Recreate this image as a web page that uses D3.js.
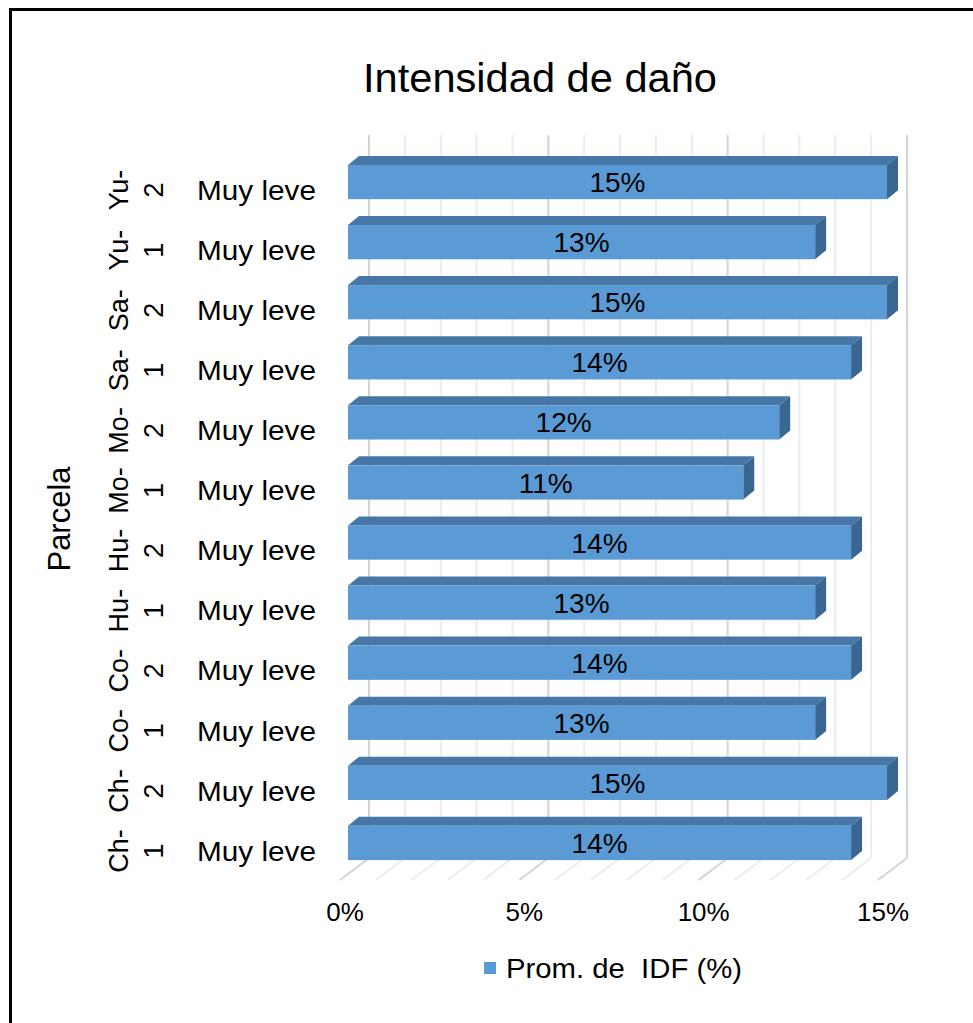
<!DOCTYPE html>
<html>
<head>
<meta charset="utf-8">
<script src="https://cdn.jsdelivr.net/npm/d3@7"></script>
<style>
  body { margin: 0; background: #fff; }
  text { font-family: "Liberation Sans", Arial, sans-serif; fill: #000; }
</style>
</head>
<body>
<svg id="chart" width="973" height="1023"></svg>
<script>
// datos (de abajo hacia arriba)
let parcelas = ["Ch-1", "Ch-2", "Co-1", "Co-2", "Hu-1", "Hu-2", "Mo-1", "Mo-2", "Sa-1", "Sa-2", "Yu-1", "Yu-2"]
let intensidad = ["Muy leve", "Muy leve", "Muy leve", "Muy leve", "Muy leve", "Muy leve",
                  "Muy leve", "Muy leve", "Muy leve", "Muy leve", "Muy leve", "Muy leve"]
let idf = [0.14, 0.15, 0.13, 0.14, 0.13, 0.14, 0.11, 0.12, 0.14, 0.15, 0.13, 0.15]
let ticks = [0, 0.05, 0.10, 0.15]

let datos = parcelas.map(function (p, i) {
    return { parcela: p, nivel: intensidad[i], valor: idf[i] }
})

let svg = d3.select("#chart")

// marco
svg.append("line").attr("x1", 9).attr("x2", 973).attr("y1", 9.5).attr("y2", 9.5)
    .attr("stroke", "#000").attr("stroke-width", 3)
svg.append("line").attr("x1", 10.5).attr("x2", 10.5).attr("y1", 8).attr("y2", 1023)
    .attr("stroke", "#000").attr("stroke-width", 3)

// escalas: frente de la barra, pared del fondo y borde frontal del piso
let xBar = d3.scaleLinear().domain([0, 0.15]).range([348, 887])
let xBack = d3.scaleLinear().domain([0, 0.15]).range([369, 907])
let xFront = d3.scaleLinear().domain([0, 0.15]).range([340, 878])

let y = d3.scaleBand()
    .domain(parcelas.slice().reverse())
    .range([152, 873])
    .paddingInner(0.43)
    .paddingOuter(0.215)

let depth = { dx: 11, dy: -9 }
let wallTop = 135, floorBack = 858, floorFront = 880

// lineas de division (cada 1%)
let minor = d3.range(0, 16).map(function (d) { return d / 100 })
let grid = svg.append("g")

grid.selectAll(".wall")
    .data(minor)
    .enter().append("line")
    .attr("x1", function (d) { return xBack(d) })
    .attr("x2", function (d) { return xBack(d) })
    .attr("y1", wallTop)
    .attr("y2", floorBack)
    .attr("stroke", function (d, i) { return i % 5 == 0 ? "#d4d4d4" : "#ececec" })
    .attr("stroke-width", 2)

grid.selectAll(".floor")
    .data(minor)
    .enter().append("line")
    .attr("x1", function (d) { return xBack(d) })
    .attr("x2", function (d) { return xFront(d) })
    .attr("y1", floorBack)
    .attr("y2", floorFront)
    .attr("stroke", function (d, i) { return i % 5 == 0 ? "#d4d4d4" : "#ececec" })
    .attr("stroke-width", 2)

// barras 3D
let bars = svg.append("g").selectAll("g")
    .data(datos)
    .enter().append("g")

// cara superior
bars.append("path")
    .attr("fill", "#4677a6")
    .attr("d", function (d) {
        let x0 = xBar(0), x1 = xBar(d.valor), t = y(d.parcela)
        return "M" + x0 + "," + t + "L" + (x0 + depth.dx) + "," + (t + depth.dy) +
            "L" + (x1 + depth.dx) + "," + (t + depth.dy) + "L" + x1 + "," + t + "Z"
    })

// cara lateral
bars.append("path")
    .attr("fill", "#3a6791")
    .attr("d", function (d) {
        let x1 = xBar(d.valor), t = y(d.parcela), b = t + y.bandwidth()
        return "M" + x1 + "," + t + "L" + (x1 + depth.dx) + "," + (t + depth.dy) +
            "L" + (x1 + depth.dx) + "," + (b + depth.dy) + "L" + x1 + "," + b + "Z"
    })

// cara frontal
bars.append("rect")
    .attr("x", xBar(0))
    .attr("y", function (d) { return y(d.parcela) })
    .attr("width", function (d) { return xBar(d.valor) - xBar(0) })
    .attr("height", y.bandwidth())
    .attr("fill", "#5b9bd5")

// etiquetas de datos
bars.append("text")
    .attr("x", function (d) { return (xBar(0) + xBar(d.valor)) / 2 })
    .attr("y", function (d) { return y(d.parcela) + y.bandwidth() / 2 })
    .attr("dy", "0.36em")
    .attr("text-anchor", "middle")
    .style("font-size", "28px")
    .text(function (d) { return d3.format(".0%")(d.valor) })

// eje de categorias (dos niveles)
let cat = svg.append("g")

cat.selectAll(".nivel")
    .data(datos)
    .enter().append("text")
    .attr("x", 197)
    .attr("y", function (d) { return y(d.parcela) + y.bandwidth() / 2 + 8 })
    .attr("dy", "0.36em")
    .style("font-size", "27px")
    .attr("textLength", 119)
    .attr("lengthAdjust", "spacingAndGlyphs")
    .text(function (d) { return d.nivel })

let rot = cat.selectAll(".parcela")
    .data(datos)
    .enter().append("text")
    .attr("transform", function (d) {
        return "translate(0," + (y(d.parcela) + y.bandwidth() / 2 + 8) + ") rotate(-90)"
    })
    .attr("text-anchor", "middle")
    .style("font-size", "27px")

rot.append("tspan")
    .attr("x", 0).attr("y", 118).attr("dy", "0.36em")
    .text(function (d) { return d.parcela.split("-")[0] + "-" })
rot.append("tspan")
    .attr("x", 0).attr("y", 153).attr("dy", "0.36em")
    .text(function (d) { return d.parcela.split("-")[1] })

// titulo del eje
svg.append("text")
    .attr("transform", "translate(59,519) rotate(-90)")
    .attr("text-anchor", "middle")
    .attr("dy", "0.36em")
    .style("font-size", "31px")
    .text("Parcela")

// eje de valores
svg.append("g").selectAll("text")
    .data(ticks)
    .enter().append("text")
    .attr("x", function (d) { return xFront(d) + 5 })
    .attr("y", 912)
    .attr("dy", "0.36em")
    .attr("text-anchor", "middle")
    .style("font-size", "26px")
    .text(function (d) { return d3.format(".0%")(d) })

// titulo
svg.append("text")
    .attr("x", 540)
    .attr("y", 78)
    .attr("dy", "0.36em")
    .attr("text-anchor", "middle")
    .style("font-size", "40px")
    .attr("textLength", 354)
    .attr("lengthAdjust", "spacingAndGlyphs")
    .text("Intensidad de daño")

// leyenda
svg.append("rect")
    .attr("x", 484).attr("y", 962).attr("width", 12).attr("height", 12)
    .attr("fill", "#5b9bd5")
svg.append("text")
    .attr("x", 506).attr("y", 968).attr("dy", "0.36em")
    .style("font-size", "27px")
    .style("white-space", "pre")
    .attr("textLength", 236)
    .attr("lengthAdjust", "spacingAndGlyphs")
    .text("Prom. de  IDF (%)")
</script>
</body>
</html>
